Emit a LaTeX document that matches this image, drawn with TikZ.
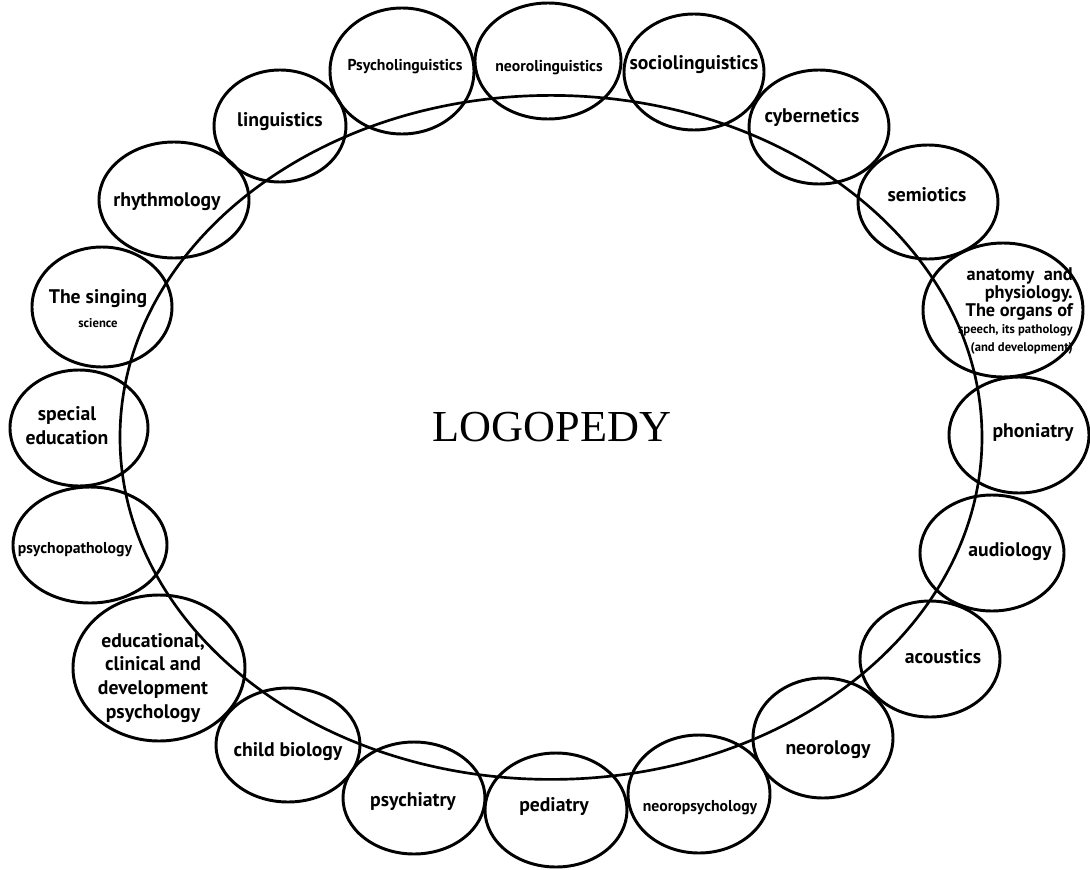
\documentclass[tikz,border=0pt]{standalone}
\usepackage{fontspec}
\setmainfont{Liberation Serif}
\newfontfamily\lblfont{PT Sans}
\usetikzlibrary{shapes}

\tikzstyle{topic} = [draw,ellipse,line width=2.1pt,inner sep=0pt]
\tikzstyle{lbl} = [font=\lblfont\bfseries\fontsize{14}{17}\selectfont,align=center,inner sep=0pt]
\tikzstyle{lbl'} = [font=\lblfont\bfseries\fontsize{11.2}{13}\selectfont,align=center,inner sep=0pt]
\newcommand{\tinylbl}{\lblfont\bfseries\fontsize{9}{11.5}\selectfont}

\begin{document}
\begin{tikzpicture}
\useasboundingbox (-13.625,-10.85) rectangle (13.625,10.875);

\node[ellipse,draw,line width=1.9pt,minimum width=21.55cm,minimum height=17.1cm] (L) at (0.15,-0.06) {};
\node[font=\fontsize{31.5}{36}\selectfont] (Lt) at (0.175,0.19) {LOGOPEDY};

% top row
\node[topic,minimum width=3.6cm,minimum height=3.15cm] (PL) at (-3.575,9.1) {};
\node[lbl'] (PLt) at (-3.5,9.2) {Psycholinguistics};
\node[topic,minimum width=3.65cm,minimum height=2.9cm] (NL) at (0.075,9.35) {};
\node[lbl'] (NLt) at (0.1,9.175) {neorolinguistics};
\node[topic,minimum width=3.5cm,minimum height=2.9cm] (SL) at (3.725,9.075) {};
\node[lbl] (SLt) at (3.725,9.25) {sociolinguistics};
\node[topic,minimum width=3.5cm,minimum height=2.85cm] (CY) at (6.85,7.7) {};
\node[lbl] (CYt) at (6.675,7.925) {cybernetics};
\node[topic,minimum width=3.5cm,minimum height=2.85cm] (SE) at (9.575,5.825) {};
\node[lbl] (SEt) at (9.55,6.0) {semiotics};

% right side
\node[topic,minimum width=4cm,minimum height=3.35cm] (AN) at (11.45,3.125) {};
\node[lbl,align=right,anchor=east,font=\lblfont\bfseries\fontsize{13}{12.5}\selectfont] (ANt) at (13.2,3.1) {\makebox[2.65cm][s]{anatomy and}\\physiology.\\The organs of\\\tinylbl speech, its pathology\\\tinylbl (and development)};
\node[topic,minimum width=3.5cm,minimum height=2.9cm] (PH) at (11.85,0) {};
\node[lbl] (PHt) at (12.2,0.05) {phoniatry};
\node[topic,minimum width=3.6cm,minimum height=2.9cm] (AU) at (11.175,-2.95) {};
\node[lbl] (AUt) at (11.625,-2.925) {audiology};
\node[topic,minimum width=3.5cm,minimum height=2.9cm] (AC) at (9.625,-5.6) {};
\node[lbl] (ACt) at (9.95,-5.55) {acoustics};
\node[topic,minimum width=3.5cm,minimum height=3cm] (NE) at (6.95,-7.575) {};
\node[lbl] (NEt) at (7.075,-7.875) {neorology};

% bottom row
\node[topic,minimum width=3.55cm,minimum height=2.95cm] (NP) at (3.85,-8.975) {};
\node[lbl'] (NPt) at (3.875,-9.325) {neoropsychology};
\node[topic,minimum width=3.55cm,minimum height=2.85cm] (PE) at (0.275,-9.375) {};
\node[lbl] (PEt) at (0.225,-9.3) {pediatry};
\node[topic,minimum width=3.55cm,minimum height=2.8cm] (PS) at (-3.275,-9.075) {};
\node[lbl] (PSt) at (-3.3,-9.175) {psychiatry};
\node[topic,minimum width=3.6cm,minimum height=2.85cm] (CB) at (-6.425,-7.75) {};
\node[lbl] (CBt) at (-6.425,-7.925) {child biology};

% left side
\node[topic,minimum width=4.3cm,minimum height=3.65cm] (ED) at (-9.65,-5.825) {};
\node[lbl] (EDt) at (-9.8,-6.075) {educational,\\clinical and\\development\\psychology};
\node[topic,minimum width=3.85cm,minimum height=2.9cm] (PP) at (-11.375,-2.75) {};
\node[lbl'] (PPt) at (-11.75,-2.875) {psychopathology};
\node[topic,minimum width=3.45cm,minimum height=2.9cm] (SP) at (-11.65,0.175) {};
\node[lbl] (SPt) at (-11.95,0.225) {special\\education};
\node[topic,minimum width=3.5cm,minimum height=3cm] (SI) at (-11.075,3.2) {};
\node[lbl] (SIt) at (-11.175,3.15) {The singing\\\tinylbl science};
\node[topic,minimum width=3.75cm,minimum height=2.9cm] (RH) at (-9.275,5.875) {};
\node[lbl] (RHt) at (-9.45,5.825) {rhythmology};
\node[topic,minimum width=3.3cm,minimum height=2.8cm] (LI) at (-6.625,7.725) {};
\node[lbl] (LIt) at (-6.625,7.825) {linguistics};
\end{tikzpicture}
\end{document}
